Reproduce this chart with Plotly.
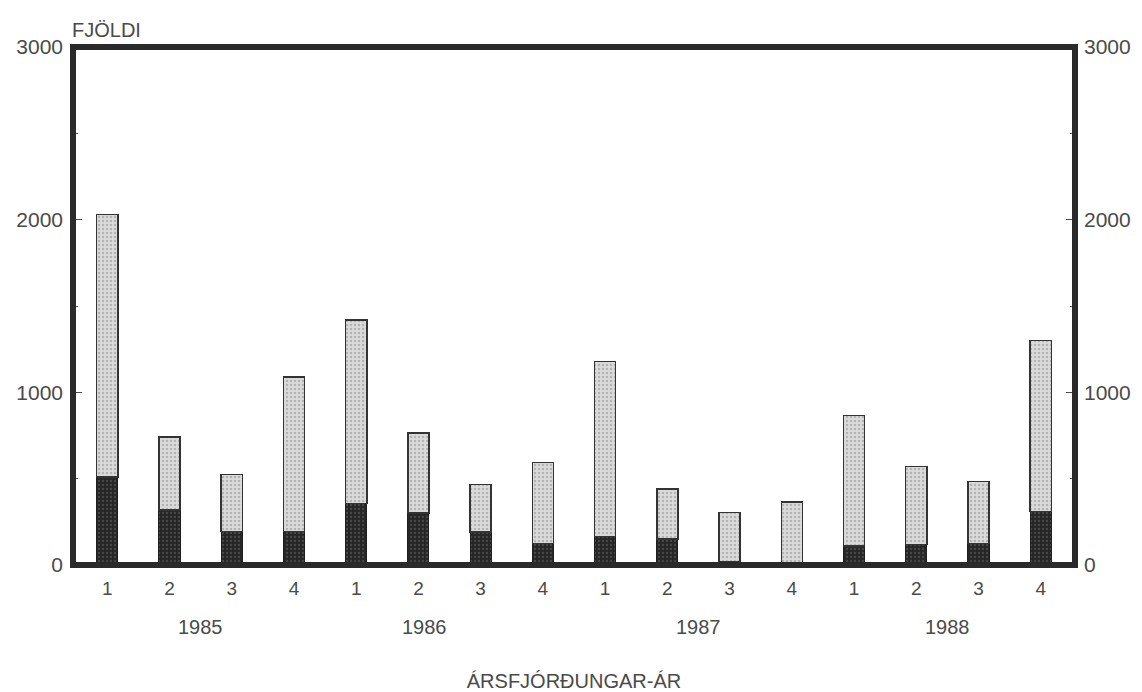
import plotly.graph_objects as go

# Quarterly counts 1985-1988
years = ["1985", "1986", "1987", "1988"]
quarters = ["1", "2", "3", "4"]
dark_vals = [510, 320, 195, 195,
             355, 300, 190, 125,
             165, 150, 20, 10,
             110, 120, 125, 310]
light_vals = [1520, 420, 330, 895,
              1065, 465, 275, 470,
              1015, 290, 285, 355,
              755, 450, 360, 990]
y_ticks = [0, 1000, 2000, 3000]
year_pos = [1.5, 5.1, 9.5, 13.5]

cats = [f"{y} Q{q}" for y in years for q in quarters]
tick_text = [q for _ in years for q in quarters]

FONT = "Liberation Sans"
INK = "#4a4a4a"

fig = go.Figure()

fig.add_trace(go.Bar(
    x=cats,
    y=dark_vals,
    width=0.34,
    marker=dict(
        color="#333333",
        line=dict(color="#1e1e1e", width=1),
        pattern=dict(shape=".", fgcolor="#6a6a6a", bgcolor="#262626", size=4, solidity=0.25),
    ),
    hovertemplate="%{x}: %{y}<extra></extra>",
))

fig.add_trace(go.Bar(
    x=cats,
    y=light_vals,
    width=0.34,
    marker=dict(
        color="#d0d0d0",
        line=dict(color="#333333", width=1.5),
        pattern=dict(shape=".", fgcolor="#8c8c8c", bgcolor="#dadada", size=4, solidity=0.3),
    ),
    hovertemplate="%{x}: %{y}<extra></extra>",
))

# invisible trace so the right-hand axis is drawn
fig.add_trace(go.Scatter(x=[cats[0]], y=[0], yaxis="y2", mode="markers",
                         marker=dict(opacity=0), showlegend=False, hoverinfo="skip"))

for yr, pos in zip(years, year_pos):
    fig.add_annotation(x=pos, y=0, xref="x", yref="paper", yshift=-75,
                       text=yr, showarrow=False,
                       font=dict(family=FONT, size=20, color=INK))

fig.add_annotation(x=0, y=1, xref="paper", yref="paper", xanchor="left", yanchor="bottom",
                   xshift=-3, yshift=4, text="FJÖLDI", showarrow=False,
                   font=dict(family=FONT, size=20, color=INK))

fig.add_shape(type="rect", xref="paper", yref="paper", x0=0, x1=1, y0=0, y1=1,
              line=dict(color="#2a2a2a", width=6))

axis_font = dict(family=FONT, size=21, color=INK)

# the page body adds an 8px offset, so the figure is sized to fit the window
fig.update_layout(
    barmode="stack",
    showlegend=False,
    width=1134,
    height=684,
    margin=dict(l=65, r=67, t=39, b=127, autoexpand=False),
    plot_bgcolor="white",
    paper_bgcolor="white",
    xaxis=dict(
        type="category",
        range=[-0.55, 15.55],
        tickvals=cats,
        ticktext=tick_text,
        tickfont=dict(family=FONT, size=19, color=INK),
        ticks="",
        ticklabelstandoff=10,
        automargin=False,
        showgrid=False,
        zeroline=False,
        title=dict(text="ÁRSFJÓRÐUNGAR-ÁR", font=dict(family=FONT, size=20, color=INK), standoff=76),
    ),
    yaxis=dict(
        range=[0, 3000],
        tickvals=y_ticks,
        tickfont=axis_font,
        ticks="inside",
        ticklen=9,
        tickcolor=INK,
        ticklabelstandoff=9,
        automargin=False,
        minor=dict(dtick=500, ticks="inside", ticklen=5, tickcolor=INK),
        showgrid=False,
        zeroline=False,
    ),
    yaxis2=dict(
        range=[0, 3000],
        overlaying="y",
        side="right",
        tickvals=y_ticks,
        tickfont=axis_font,
        ticks="inside",
        ticklen=9,
        tickcolor=INK,
        ticklabelstandoff=8,
        automargin=False,
        minor=dict(dtick=500, ticks="inside", ticklen=5, tickcolor=INK),
        showgrid=False,
        zeroline=False,
    ),
)

fig.write_html("out.html")
